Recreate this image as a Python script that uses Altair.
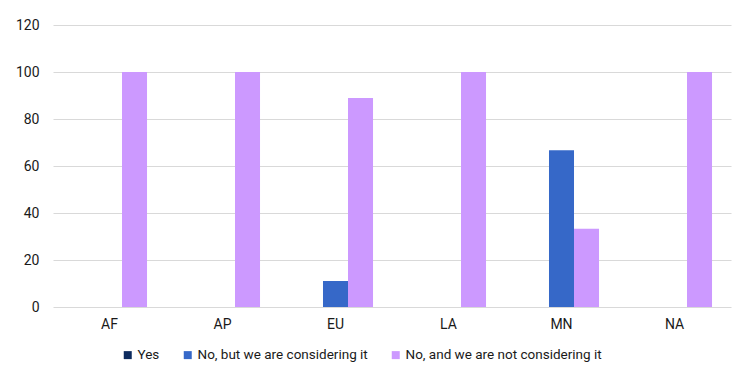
import altair as alt
import pandas as pd

regions = ["AF", "AP", "EU", "LA", "MN", "NA"]
series = ["Yes", "No, but we are considering it", "No, and we are not considering it"]
yes_vals = [0, 0, 0, 0, 0, 0]
considering_vals = [0, 0, 11.1, 0, 66.7, 0]
not_considering_vals = [100, 100, 88.9, 100, 33.3, 100]
colors = ["#0d2b5e", "#3668c8", "#cc99ff"]

rows = []
for i, r in enumerate(regions):
    for s, vals in zip(series, [yes_vals, considering_vals, not_considering_vals]):
        rows.append({"region": r, "series": s, "value": vals[i]})
df = pd.DataFrame(rows)

font = "Roboto"
chart = alt.Chart(df).mark_bar().encode(
    x=alt.X("region:N", sort=regions, title=None,
            scale=alt.Scale(paddingInner=0.336, paddingOuter=0.168),
            axis=alt.Axis(labelAngle=0, ticks=False, domain=False, labelFont=font,
                          labelFontSize=14, labelColor="#1a1a1a", labelPadding=10)),
    xOffset=alt.XOffset("series:N", sort=series),
    y=alt.Y("value:Q", title=None,
            scale=alt.Scale(domain=[0, 120]),
            axis=alt.Axis(values=[0, 20, 40, 60, 80, 100, 120], ticks=False, domain=False,
                          labelFont=font, labelFontSize=14, labelColor="#1a1a1a",
                          labelPadding=14, gridColor="#d9d9d9", gridWidth=1)),
    color=alt.Color("series:N", sort=series,
                    scale=alt.Scale(domain=series, range=colors),
                    legend=alt.Legend(title=None, orient="none", direction="horizontal",
                                      legendX=68, legendY=323, symbolType="square",
                                      symbolSize=64, symbolStrokeWidth=0,
                                      labelFont=font, labelFontSize=13.5, labelColor="#1a1a1a",
                                      labelLimit=0, columnPadding=21, labelOffset=3)),
).properties(
    width=678, height=282,
    padding={"left": 45, "top": 17, "right": 10, "bottom": 62},
    autosize=alt.AutoSizeParams(type="none"),
).configure_view(stroke=None)

chart.save("out.html", embed_options={"renderer": "svg", "actions": False})
